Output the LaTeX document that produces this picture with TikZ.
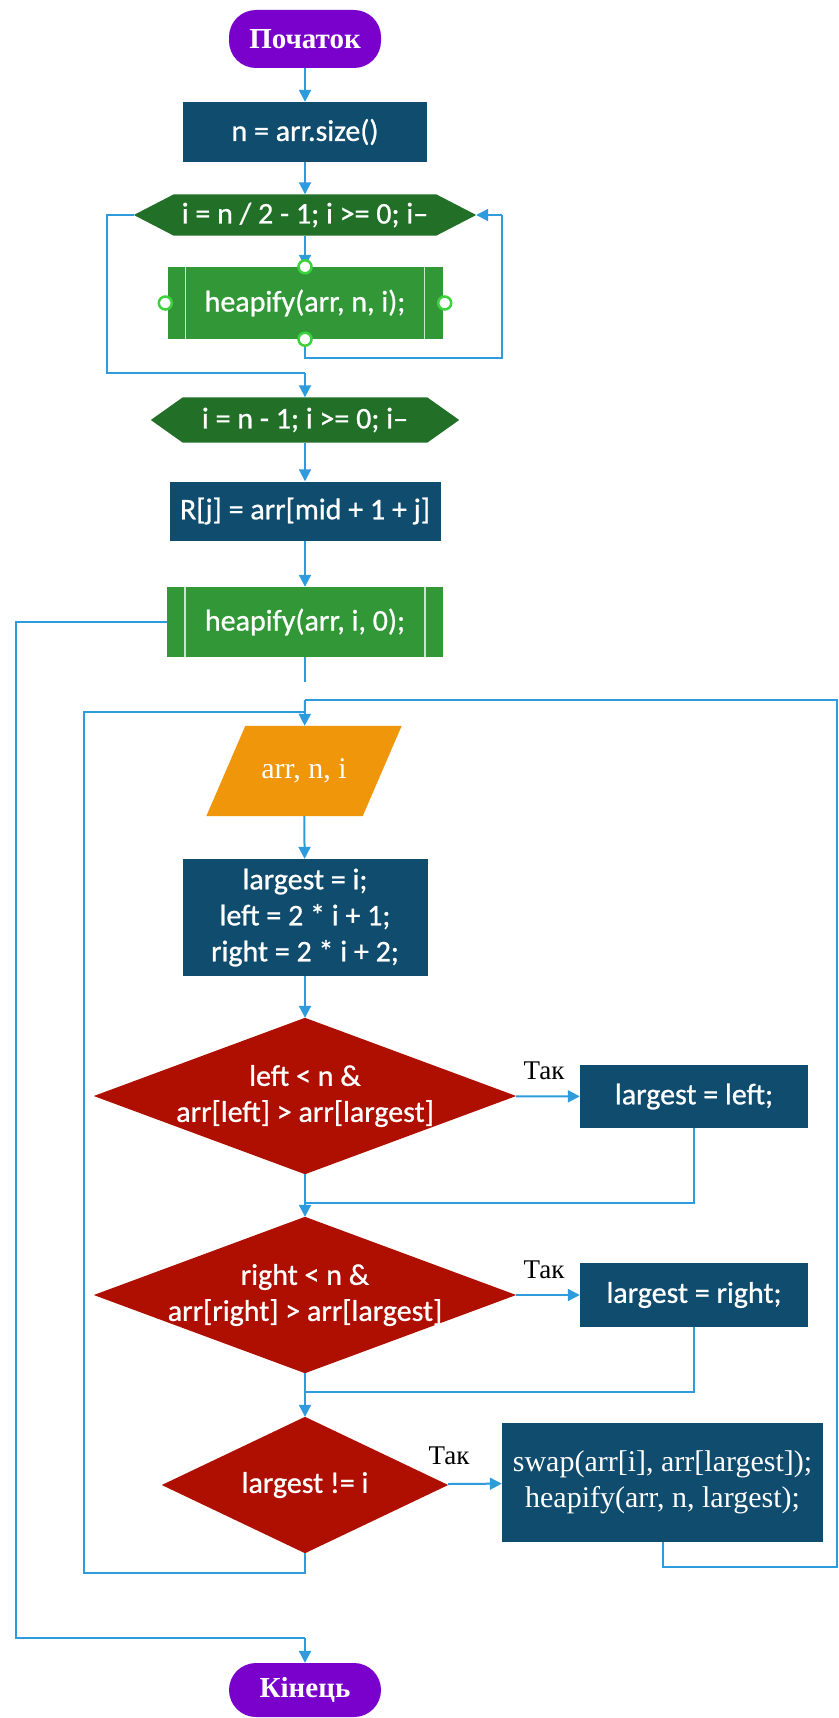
\documentclass[tikz,border=0pt]{standalone}
\usepackage{fontspec}
\setmainfont{Liberation Serif}
\newfontfamily\calib[FakeBold=0.8]{Carlito}
\usetikzlibrary{arrows.meta}
\pgfdeclarelayer{bg}
\pgfsetlayers{bg,main}

\definecolor{termc}{RGB}{122,0,204}
\definecolor{procc}{RGB}{16,76,110}
\definecolor{loopc}{RGB}{34,112,40}
\definecolor{subc}{RGB}{50,152,55}
\definecolor{decc}{RGB}{175,15,0}
\definecolor{ioc}{RGB}{240,150,10}
\definecolor{linec}{RGB}{45,155,220}
\definecolor{handc}{RGB}{60,210,60}

\begin{document}
\begin{tikzpicture}[x=1pt,y=-1pt,
  every node/.style={inner sep=0pt, text=white},
  sans/.style={font=\calib\fontsize{30}{36}\selectfont},
  serif/.style={font=\fontsize{30}{36}\selectfont},
  term/.style={rectangle, rounded corners=27pt, fill=termc, minimum width=152pt,
    font=\bfseries\fontsize{29}{34}\selectfont},
  proc/.style={rectangle, fill=procc, sans, align=center},
  subr/.style={rectangle, fill=subc, sans},
  loopn/.style={rectangle, sans},
  decn/.style={rectangle, sans, align=center},
  ion/.style={rectangle, serif},
  lbl/.style={text=black, font=\fontsize{27}{32}\selectfont},
  handle/.style={circle, draw=handc, fill=white, line width=2.5pt, minimum size=13pt},
  sideline/.style={draw=white!75!subc, line width=1.5pt},
  conn/.style={draw=linec, line width=2pt},
  arr/.style={conn, -{Triangle[length=12pt,width=12pt]}}
]
\useasboundingbox (0,0) rectangle (838,1718);

% main column
\node[term, minimum height=58pt] (start) at (305,39) {Початок};
\node[proc, minimum width=244pt, minimum height=60pt] (n) at (305,132) {n = arr.size()};
\node[loopn, minimum width=342pt, minimum height=41pt] (hx1) at (305,215) {i = n / 2 - 1; i >= 0; i–};
\node[subr, minimum width=275pt, minimum height=72pt] (hp1) at (305,303) {heapify(arr, n, i);};
\node[loopn, minimum width=308pt, minimum height=45pt] (hx2) at (305,420) {i = n - 1; i >= 0; i–};
\node[proc, minimum width=271pt, minimum height=59pt] (rj) at (305,511) {R[j] = arr[mid + 1 + j]};
\node[subr, minimum width=276pt, minimum height=70pt] (hp2) at (305,622) {heapify(arr, i, 0);};

% heapify body
\node[ion, minimum width=195pt, minimum height=90pt] (in) at (304,771) {arr, n, i};
\node[proc, minimum width=245pt, minimum height=117pt] (init) at (305,917.5)
  {largest = i;\\left = 2 * i + 1;\\right = 2 * i + 2;};
\node[decn, minimum width=422pt, minimum height=156pt] (d1) at (305,1096)
  {left < n \&\\arr[left] > arr[largest]};
\node[proc, minimum width=228pt, minimum height=63pt] (bl) at (694,1096.5) {largest = left;};
\node[decn, minimum width=422pt, minimum height=156pt] (d2) at (305,1295)
  {right < n \&\\arr[right] > arr[largest]};
\node[proc, minimum width=228pt, minimum height=64pt] (br) at (694,1295) {largest = right;};
\node[decn, minimum width=286pt, minimum height=136pt] (d3) at (305,1485) {largest != i};
\node[proc, serif, minimum width=321pt, minimum height=119pt] (bs) at (662.5,1482.5)
  {swap(arr[i], arr[largest]);\\heapify(arr, n, largest);};
\node[term, minimum height=54pt] (end) at (305,1690) {Кінець};

% shape bodies drawn behind the texts
\begin{pgfonlayer}{bg}
  \fill[loopc] ([xshift=40pt]hx1.north west) -- ([xshift=-40pt]hx1.north east) -- (hx1.east)
    -- ([xshift=-40pt]hx1.south east) -- ([xshift=40pt]hx1.south west) -- (hx1.west) -- cycle;
  \fill[loopc] ([xshift=32pt]hx2.north west) -- ([xshift=-32pt]hx2.north east) -- (hx2.east)
    -- ([xshift=-32pt]hx2.south east) -- ([xshift=32pt]hx2.south west) -- (hx2.west) -- cycle;
  \fill[ioc] ([xshift=39pt]in.north west) -- (in.north east)
    -- ([xshift=-39pt]in.south east) -- (in.south west) -- cycle;
  \foreach \d in {d1,d2,d3}
    \fill[decc] (\d.north) -- (\d.east) -- (\d.south) -- (\d.west) -- cycle;
\end{pgfonlayer}

% side bars of the subroutine boxes
\foreach \b in {hp1,hp2} {
  \draw[sideline] ([xshift=18pt]\b.north west) -- ([xshift=18pt]\b.south west);
  \draw[sideline] ([xshift=-18pt]\b.north east) -- ([xshift=-18pt]\b.south east);
}

% junction points of the connectors
\coordinate (lp1) at (107,215);
\coordinate (lp2) at (107,373);
\coordinate (lp3) at (305,373);
\coordinate (rp1) at (305,358);
\coordinate (rp2) at (502,358);
\coordinate (rp3) at (502,215);
\coordinate (hpend) at (305,682);
\coordinate (retR) at (305,700);
\coordinate (retL) at (305,712);
\coordinate (j1) at (305,1203);
\coordinate (j2) at (305,1392);
\coordinate (o1) at (16,622);
\coordinate (o2) at (16,1638);
\coordinate (o3) at (305,1638);
\coordinate (il1) at (305,1573);
\coordinate (il2) at (84,1573);
\coordinate (il3) at (84,712);
\coordinate (ir1) at (662.5,1567);
\coordinate (ir2) at (837,1567);
\coordinate (ir3) at (837,700);

% main column connectors
\draw[arr] (start) -- (n);
\draw[arr] (n) -- (hx1);
\draw[arr] (hx1) -- (hp1);
\draw[conn] (hx1.west) -- (lp1) -- (lp2) -- (lp3);
\draw[arr] (lp3) -- (hx2);
\draw[conn] (hp1.south) -- (rp1) -- (rp2) -- (rp3);
\draw[arr] (rp3) -- (hx1.east);
\draw[arr] (hx2) -- (rj);
\draw[arr] (rj) -- (hp2);
\draw[conn] (hp2.south) -- (hpend);
\draw[conn] (hp2.west) -- (o1) -- (o2) -- (o3);
\draw[arr] (o3) -- (end);

% heapify body connectors
\draw[arr] (retR) -- (in);
\draw[arr] (in) -- (init);
\draw[arr] (init) -- (d1);
\draw[arr] (d1) -- (bl);
\draw[conn] (d1.south) -- (j1);
\draw[conn] (bl.south) |- (j1);
\draw[arr] (j1) -- (d2);
\draw[arr] (d2) -- (br);
\draw[conn] (d2.south) -- (j2);
\draw[conn] (br.south) |- (j2);
\draw[arr] (j2) -- (d3);
\draw[arr] (d3) -- (bs);
\draw[conn] (d3.south) -- (il1) -- (il2) -- (il3) -- (retL);
\draw[conn] (bs.south) -- (ir1) -- (ir2) -- (ir3) -- (retR);

% branch labels
\node[lbl] (t1) at (544,1071) {Так};
\node[lbl] (t2) at (544,1270) {Так};
\node[lbl] (t3) at (449,1456) {Так};

% connection handles on the first subroutine box
\node[handle] (h1) at (hp1.north) {};
\node[handle] (h2) at (hp1.south) {};
\node[handle] (h3) at ([xshift=-2pt]hp1.west) {};
\node[handle] (h4) at ([xshift=2pt]hp1.east) {};
\end{tikzpicture}
\end{document}
